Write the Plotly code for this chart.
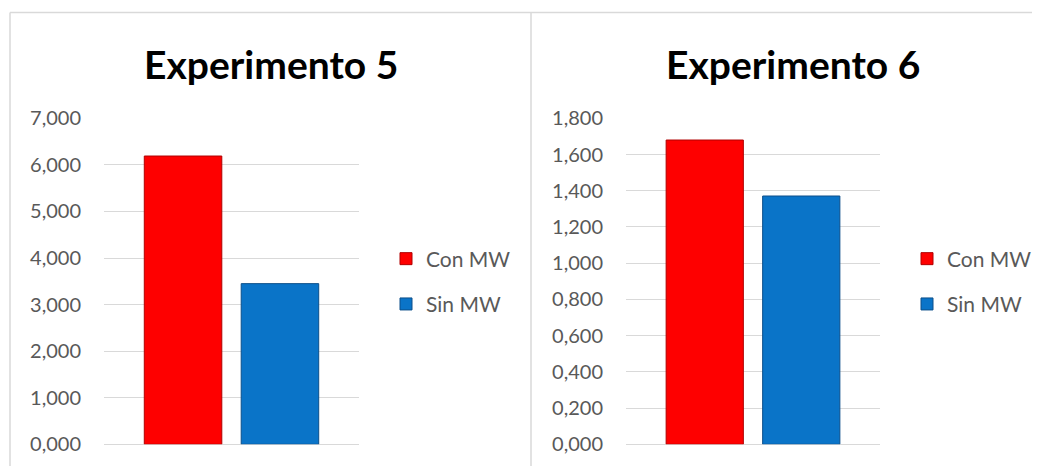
import plotly.graph_objects as go

series = ["Con MW", "Sin MW"]
exp5_values = [6.19, 3.45]
exp6_values = [1.68, 1.371]
titles = ["Experimento 5", "Experimento 6"]
category = ["Experimento"]

colors = ["#fe0000", "#0a74c8"]
edges = ["#b00000", "#0c4f8a"]

W, H = 1040, 466
OFF = 8  # page body margin offset


def px(x):
    return (x - OFF) / W


def py(y):
    return 1 - (y - OFF) / H


fig = go.Figure()
for i, (s, v) in enumerate(zip(series, exp5_values)):
    fig.add_trace(go.Bar(x=category, y=[v], name=s, xaxis="x", yaxis="y",
                         legend="legend", legendgroup="l5_%d" % i,
                         marker=dict(color=colors[i], line=dict(color=edges[i], width=1))))
for i, (s, v) in enumerate(zip(series, exp6_values)):
    fig.add_trace(go.Bar(x=category, y=[v], name=s, xaxis="x2", yaxis="y2",
                         legend="legend2", legendgroup="l6_%d" % i,
                         marker=dict(color=colors[i], line=dict(color=edges[i], width=1))))

FONT = "Lato, 'Noto Sans', sans-serif"
tick_font = dict(family=FONT, size=20, color="#595959")
yax_common = dict(tickformat=".3f", gridcolor="#d9d9d9", gridwidth=1, showline=False,
                  zeroline=True, zerolinecolor="#d9d9d9", zerolinewidth=1,
                  tickfont=tick_font, ticklabelstandoff=22, fixedrange=True, automargin=False)
xax_common = dict(showticklabels=False, showgrid=False, zeroline=False, showline=False,
                  fixedrange=True, automargin=False)

legend_common = dict(font=dict(family=FONT, size=21, color="#595959"),
                     bgcolor="rgba(0,0,0,0)", tracegroupgap=15, xanchor="left", yanchor="middle",
                     traceorder="grouped", itemclick=False, borderwidth=0)

fig.update_layout(
    template="plotly_white",
    width=W, height=H,
    margin=dict(l=0, r=0, t=0, b=0, autoexpand=False),
    paper_bgcolor="white", plot_bgcolor="white",
    separators=",.",
    barmode="group", bargap=0.24, bargroupgap=0.2,
    showlegend=True,
    xaxis=dict(domain=[px(104), px(359)], anchor="y", **xax_common),
    yaxis=dict(domain=[py(444.3), py(118.3)], anchor="x", range=[0, 7], dtick=1, **yax_common),
    xaxis2=dict(domain=[px(626), px(880)], anchor="y2", **xax_common),
    yaxis2=dict(domain=[py(444.3), py(118.3)], anchor="x2", range=[0, 1.8], dtick=0.2, **yax_common),
    legend=dict(x=px(386), y=py(281.5), **legend_common),
    legend2=dict(x=px(907), y=py(281.5), **legend_common),
    annotations=[
        dict(text="<b>%s</b>" % titles[0], x=px(270.5), y=py(64), xref="paper", yref="paper",
             showarrow=False, xanchor="center", yanchor="middle",
             font=dict(family=FONT, size=39, color="#000000")),
        dict(text="<b>%s</b>" % titles[1], x=px(793), y=py(64), xref="paper", yref="paper",
             showarrow=False, xanchor="center", yanchor="middle",
             font=dict(family=FONT, size=39, color="#000000")),
    ],
    shapes=[
        dict(type="line", xref="paper", yref="paper", x0=px(10), x1=1.0, y0=py(12.5), y1=py(12.5),
             line=dict(color="#d9d9d9", width=1.5)),
        dict(type="line", xref="paper", yref="paper", x0=px(10), x1=px(10), y0=py(12.5), y1=0,
             line=dict(color="#d9d9d9", width=1.5)),
        dict(type="line", xref="paper", yref="paper", x0=px(531), x1=px(531), y0=py(12.5), y1=0,
             line=dict(color="#d9d9d9", width=1.5)),
    ],
)

fig.write_html("out.html")
